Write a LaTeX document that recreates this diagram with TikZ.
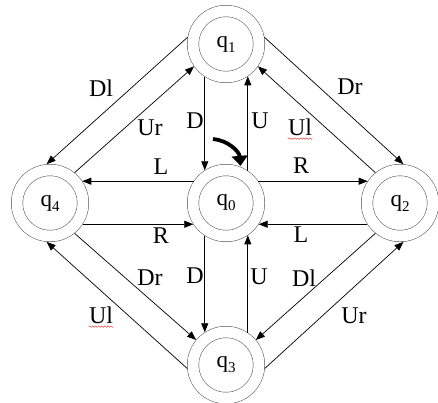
\documentclass[tikz,border=0pt]{standalone}
\usepackage{fontspec}
\setmainfont{Liberation Serif}
\usetikzlibrary{arrows.meta,positioning,decorations.pathmorphing}
\definecolor{RingGray}{HTML}{4A4A4A}
\definecolor{SpellRed}{HTML}{D02020}
\newcommand{\qsub}[1]{q\raisebox{-0.22em}{\fontsize{15}{15}\selectfont #1}}

\begin{document}
\begin{tikzpicture}[x=1pt,y=-1pt,>={Triangle[length=9pt,width=7pt]}]
\tikzset{state/.style={circle,draw=RingGray,line width=0.5pt,double,double distance=11pt,minimum size=66pt,inner sep=0pt,outer sep=6pt,font=\fontsize{23}{25}\selectfont},
         move/.style={->,line width=0.7pt},
         lbl/.style={inner sep=0pt,font=\fontsize{24}{26}\selectfont},
         wavy/.style={draw=SpellRed,line width=0.4pt,decorate,decoration={snake,amplitude=0.8pt,segment length=3pt}},
         init/.style={-{Triangle[length=10pt,width=16pt]},line width=3.8pt,shorten >=1pt}}
\useasboundingbox (0,0) rectangle (438,402);
% states
\node[state] (q0) at (226,203) {\qsub{0}};
\node[state,above=81pt of q0] (q1) {\qsub{1}};
\node[state,right=96pt of q0] (q2) {\qsub{2}};
\node[state,below=84pt of q0] (q3) {\qsub{3}};
\node[state,left=98pt of q0] (q4) {\qsub{4}};
% start arrow
\coordinate (s0) at (213,139);
\draw[init] (s0) to[bend left=40] (q0.68);
% vertical moves
\draw[move] (q1.237) -- (q0.123);
\draw[move] (q0.56) -- (q1.304);
\draw[move] (q0.237) -- (q3.123);
\draw[move] (q3.56) -- (q0.304);
% horizontal moves
\draw[move] (q0.146) -- (q4.34);
\draw[move] (q4.-33) -- (q0.213);
\draw[move] (q0.34) -- (q2.146);
\draw[move] (q2.213) -- (q0.-33);
% diagonal moves
\draw[move] (q1.170) -- (q4.95);
\draw[move] (q4.51) -- (q1.215);
\draw[move] (q1.10) -- (q2.85);
\draw[move] (q2.129) -- (q1.-35);
\draw[move] (q3.-5) -- (q2.-85);
\draw[move] (q2.-129) -- (q3.40);
\draw[move] (q3.185) -- (q4.-95);
\draw[move] (q4.-51) -- (q3.140);
% labels
\node[lbl] (lDl1) at (101,88) {Dl};
\node[lbl] (lUr1) at (150,128) {Ur};
\node[lbl] (lD1) at (195,121) {D};
\node[lbl] (lU1) at (260,121) {U};
\node[lbl] (lDr1) at (350,87) {Dr};
\node[lbl] (lUl1) at (300,127) {Ul};
\node[lbl] (lL1) at (161,167) {L};
\node[lbl] (lR1) at (301,166) {R};
\node[lbl] (lR2) at (161,236) {R};
\node[lbl] (lL2) at (301,235) {L};
\node[lbl] (lD2) at (195,276) {D};
\node[lbl] (lU2) at (259,277) {U};
\node[lbl] (lDr2) at (150,278) {Dr};
\node[lbl] (lDl2) at (304,278) {Dl};
\node[lbl] (lUl2) at (101,315) {Ul};
\node[lbl] (lUr2) at (354,316) {Ur};
\draw[wavy] ([yshift=-3pt]lUl1.south west) -- ([yshift=-3pt]lUl1.south east);
\draw[wavy] ([yshift=-3pt]lUl2.south west) -- ([yshift=-3pt]lUl2.south east);
\end{tikzpicture}
\end{document}
